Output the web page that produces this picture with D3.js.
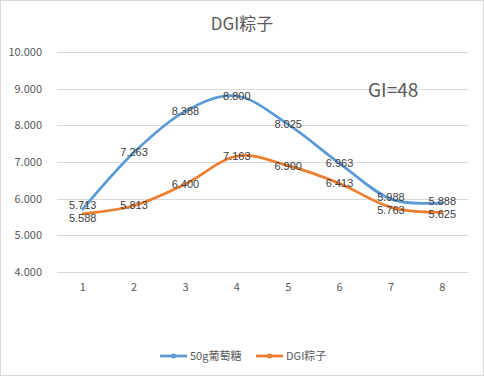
<!DOCTYPE html>
<html>
<head>
<meta charset="utf-8">
<script src="https://cdn.jsdelivr.net/npm/d3@7"></script>
<style>
  body { margin: 0; background: #fff; }
  svg text { font-family: "Noto Sans CJK SC", "Noto Sans", sans-serif; }
  svg text.lbl { font-family: "Liberation Sans", sans-serif; }
</style>
</head>
<body>
<svg id="chart" width="484" height="376"></svg>
<script>
// data
var categories = ["1", "2", "3", "4", "5", "6", "7", "8"];
var glucose = [5.713, 7.263, 8.388, 8.800, 8.025, 6.963, 5.988, 5.888];
var dgi = [5.588, 5.813, 6.400, 7.163, 6.900, 6.413, 5.763, 5.625];
var yTicks = [4, 5, 6, 7, 8, 9, 10];
var seriesNames = ["50g葡萄糖", "DGI粽子"];

var colors = ["#5B9BD5", "#ED7D31"];
var W = 484, H = 376;
var svg = d3.select("#chart");

// outer border
svg.append("rect")
  .attr("x", 0.5).attr("y", 0.5)
  .attr("width", W - 1).attr("height", H - 1)
  .attr("fill", "#fff")
  .attr("stroke", "#d9d9d9");

var x = d3.scaleBand().domain(categories).range([57, 468]);
var y = d3.scaleLinear().domain([4, 10]).range([272, 52]);

// gridlines
svg.append("g")
  .selectAll("line")
  .data(yTicks)
  .enter()
  .append("line")
  .attr("x1", 57).attr("x2", 468)
  .attr("y1", function(d) { return Math.round(y(d)) + 0.5; })
  .attr("y2", function(d) { return Math.round(y(d)) + 0.5; })
  .attr("stroke", "#d9d9d9")
  .attr("stroke-width", 1);

// y labels
svg.append("g")
  .selectAll("text")
  .data(yTicks)
  .enter()
  .append("text")
  .attr("x", 42)
  .attr("y", function(d) { return y(d); })
  .attr("dy", "0.35em")
  .attr("text-anchor", "end")
  .attr("font-size", 11)
  .attr("fill", "#595959")
  .text(function(d) { return d3.format(".3f")(d); });

// x labels
svg.append("g")
  .selectAll("text")
  .data(categories)
  .enter()
  .append("text")
  .attr("x", function(d) { return x(d) + x.bandwidth() / 2; })
  .attr("y", 287)
  .attr("dy", "0.35em")
  .attr("text-anchor", "middle")
  .attr("font-size", 11)
  .attr("fill", "#595959")
  .text(function(d) { return d; });

// title
svg.append("text")
  .attr("x", W / 2).attr("y", 30)
  .attr("text-anchor", "middle")
  .attr("font-size", 17)
  .attr("fill", "#595959")
  .text("DGI粽子");

svg.append("text")
  .attr("x", 368).attr("y", 97)
  .attr("font-size", 19)
  .attr("fill", "#595959")
  .text("GI=48");

var line = d3.line()
  .x(function(d, i) { return x(categories[i]) + x.bandwidth() / 2; })
  .y(function(d) { return y(d); })
  .curve(d3.curveCardinal.tension(0));

[glucose, dgi].forEach(function(vals, si) {
  svg.append("path")
    .datum(vals)
    .attr("d", line)
    .attr("fill", "none")
    .attr("stroke", colors[si])
    .attr("stroke-width", 2.75)
    .attr("stroke-linecap", "round");
});

// data labels, nudged apart a little where the two series crowd together
var minGap = 13;
[glucose, dgi].forEach(function(vals, si) {
  var other = si === 0 ? dgi : glucose;
  svg.append("g")
    .selectAll("text")
    .data(vals)
    .enter()
    .append("text")
    .attr("class", "lbl")
    .attr("x", function(d, i) { return x(categories[i]) + x.bandwidth() / 2; })
    .attr("y", function(d, i) {
      var gap = y(other[i]) - y(d);
      var shift = Math.abs(gap) < minGap ? (gap > 0 ? -1 : 1) * (minGap - Math.abs(gap)) / 2 : 0;
      return y(d) + shift;
    })
    .attr("dy", "0.35em")
    .attr("text-anchor", "middle")
    .attr("font-size", 11)
    .attr("fill", "#404040")
    .text(function(d) { return d3.format(".3f")(d); });
});

// legend
var legendX = [160, 256];
seriesNames.forEach(function(name, i) {
  var g = svg.append("g").attr("transform", "translate(" + legendX[i] + ",356)");
  g.append("line")
    .attr("x1", 0).attr("x2", 27)
    .attr("y1", 0).attr("y2", 0)
    .attr("stroke", colors[i])
    .attr("stroke-width", 2.75);
  g.append("circle")
    .attr("cx", 13.5).attr("cy", 0).attr("r", 2.5)
    .attr("fill", colors[i]);
  g.append("text")
    .attr("x", 30).attr("y", 0)
    .attr("dy", "0.35em")
    .attr("font-size", 11)
    .attr("fill", "#595959")
    .text(name);
});
</script>
</body>
</html>
